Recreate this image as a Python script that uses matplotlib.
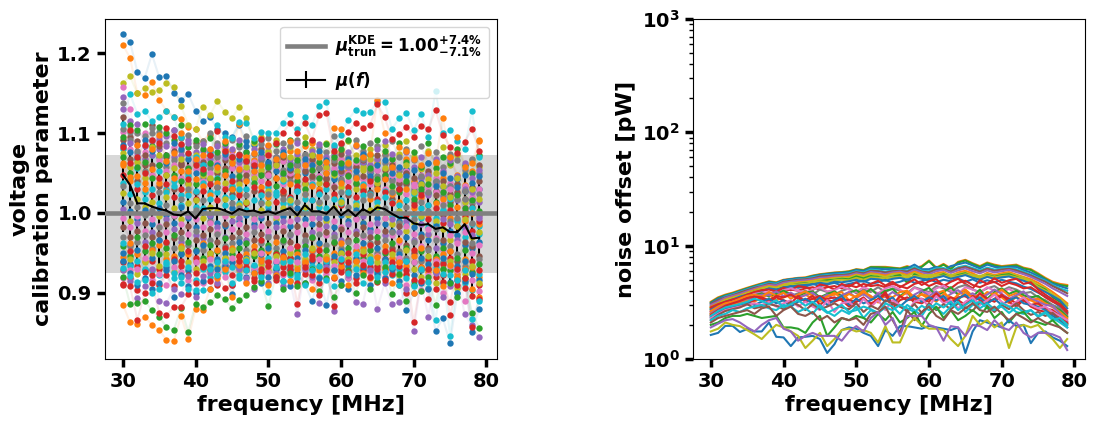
import numpy as np
import matplotlib
matplotlib.use('Agg')
import matplotlib.pyplot as plt

plt.rcParams['font.family'] = 'DejaVu Sans'
plt.rcParams['font.weight'] = 'bold'
plt.rcParams['mathtext.fontset'] = 'dejavusans'

freq = list(range(30, 80))
mu_kde = 1.00
band_low = 0.925
band_high = 1.072

# voltage calibration: deviation from 1 in thousandths, per antenna
S0 = [224,214,177,169,199,170,172,150,142,149,128,115,120,105,100,95,110,90,85,92,60,70,65,55,62,50,72,45,60,52,40,58,45,62,50,35,48,42,30,55,38,45,25,40,32,20,42,28,18,30]
S1 = [211,194,150,148,164,142,128,120,118,108,105,90,98,85,80,78,112,72,66,60,75,60,68,78,58,84,64,72,55,66,78,52,60,70,45,62,74,55,48,68,40,58,50,62,44,70,48,35,52,90]
S2 = [163,171,150,156,152,154,163,158,134,110,105,133,123,140,127,119,133,119,88,95,78,92,65,82,70,95,80,60,88,75,68,90,72,58,80,66,85,62,74,90,70,55,78,64,82,60,72,50,66,58]
S3 = [112,149,124,128,115,120,128,120,95,74,70,60,75,110,95,94,114,113,94,102,100,100,113,124,105,120,110,134,139,85,98,117,129,125,127,139,139,105,119,125,104,124,95,153,100,104,90,80,128,70]
S4 = [82,104,70,85,92,88,107,97,87,75,60,55,72,103,78,70,73,65,60,93,72,88,100,113,100,113,92,123,125,78,88,102,113,107,110,136,120,93,99,108,95,109,105,129,98,83,75,89,105,77]
S5 = [60,45,85,38,80,98,65,75,100,52,68,72,80,58,90,62,55,70,75,60,85,68,72,90,78,60,88,70,64,107,105,62,85,70,74,142,100,58,82,78,68,60,75,64,119,70,95,58,62,92]
S6 = [-115,-137,-139,-130,-140,-147,-159,-161,-129,-158,-120,-122,-95,-82,-70,-105,-65,-88,-75,-60,-90,-78,-55,-85,-70,-62,-95,-72,-58,-80,-66,-90,-60,-75,-82,-55,-70,-88,-62,-78,-100,-68,-85,-72,-92,-65,-80,-70,-95,-105]
S7 = [-80,-114,-113,-110,-122,-130,-143,-147,-119,-149,-114,-118,-112,-103,-108,-119,-109,-103,-93,-85,-117,-80,-95,-75,-92,-88,-70,-98,-82,-105,-90,-72,-100,-78,-95,-85,-68,-102,-76,-110,-90,-98,-80,-115,-70,-88,-105,-82,-125,-144]
S8 = [-72,-85,-107,-92,-70,-110,-113,-95,-102,-79,-105,-79,-75,-88,-62,-90,-70,-82,-95,-60,-88,-75,-92,-85,-127,-70,-80,-113,-68,-123,-90,-78,-112,-114,-72,-120,-88,-114,-112,-95,-148,-85,-130,-75,-105,-92,-80,-127,-141,-156]
S9 = [-89,-92,-134,-100,-88,-125,-128,-118,-118,-102,-75,-68,-85,-78,-94,-90,-60,-72,-85,-70,-62,-80,-75,-66,-114,-68,-78,-103,-72,-116,-60,-74,-88,-65,-80,-70,-84,-62,-90,-76,-137,-85,-70,-95,-78,-128,-90,-82,-143,-108]
S10 = [-60,-75,-90,-82,-95,-88,-72,-105,-78,-92,-100,-85,-95,-70,-65,-102,-68,-80,-75,-88,-80,-70,-85,-92,-75,-88,-110,-82,-115,-72,-85,-95,-78,-68,-90,-76,-82,-70,-85,-122,-100,-88,-95,-148,-132,-163,-100,-85,-149,-120]
S11 = [-69,-79,-87,-84,-100,-95,-62,-75,-80,-95,-96,-96,-70,-78,-60,-88,-82,-72,-65,-80,-99,-68,-85,-60,-78,-90,-72,-66,-84,-92,-58,-75,-70,-88,-62,-80,-74,-68,-90,-82,-92,-70,-86,-134,-76,-154,-84,-72,-133,-110]
S12 = [158,130,85,100,92,95,72,82,60,74,55,68,80,62,50,72,58,66,48,60,72,54,65,46,58,70,52,62,44,56,68,50,60,42,66,54,48,62,40,52,36,48,30,44,28,38,24,34,20,30]
S13 = [145,115,75,68,90,80,96,70,85,92,65,78,60,72,84,58,64,76,52,68,56,70,48,62,74,54,66,46,60,72,50,58,44,64,52,68,42,56,36,50,28,44,22,38,20,34,16,30,26,14]
S14 = [120,95,90,60,110,84,70,78,60,56,88,64,72,50,66,58,74,54,62,80,50,64,70,46,60,52,68,56,44,62,74,48,58,66,42,72,54,60,38,50,44,34,52,28,40,24,36,18,32,60]
S15 = [138,102,78,52,100,70,58,66,78,50,62,44,56,70,48,64,52,42,58,66,46,70,54,40,60,74,44,56,50,66,42,60,48,68,54,46,62,40,52,36,30,46,26,40,22,34,18,28,12,24]
S16 = [70,50,58,64,44,60,72,48,40,56,36,50,62,42,52,30,46,66,38,48,58,34,50,60,40,30,54,44,36,50,62,46,38,30,56,42,48,34,26,40,18,30,36,14,26,10,22,6,16,2]
S17 = [62,40,46,30,55,38,28,44,52,26,42,34,22,38,48,30,26,40,52,32,20,44,28,36,46,24,34,30,50,20,38,28,44,34,18,30,42,24,14,30,6,20,-2,12,18,-6,8,-10,0,-14]
S18 = [48,62,30,50,22,44,36,20,30,42,18,28,36,16,30,40,22,12,32,26,38,14,28,20,34,42,16,26,36,24,10,32,20,28,40,18,26,12,30,-2,10,22,-8,6,-12,4,-16,-4,-22,-10]
S19 = [38,24,36,18,30,12,26,34,10,22,28,6,18,26,10,20,30,4,16,22,8,26,12,18,28,2,16,24,6,18,12,26,8,22,2,14,20,-4,10,-14,-2,6,-18,-6,2,-24,-10,-30,-14,-26]
S20 = [25,-10,18,8,14,-4,20,6,-8,12,16,-6,8,2,18,-2,10,14,-6,4,12,-8,6,16,-4,8,0,12,-10,6,14,-2,10,-12,4,8,-6,-14,2,-22,-12,-4,-28,-10,-20,-34,-16,-8,-30,-24]
S21 = [14,2,-8,4,-14,6,-2,-12,8,-6,-18,2,-4,-12,-16,6,-10,-2,-14,-6,2,-12,-4,-16,6,-8,-14,0,-6,-18,-2,-10,4,-12,-20,-6,-14,-22,-10,-30,-18,-26,-34,-16,-38,-22,-28,-40,-44,-36]
S22 = [-6,-18,-4,-22,-8,-16,-24,-2,-14,-26,-8,-18,-12,-24,-4,-20,-14,-26,-8,-16,-22,-4,-18,-10,-24,-14,-6,-20,-28,-10,-18,-24,-8,-30,-14,-22,-6,-28,-36,-16,-26,-42,-20,-32,-46,-28,-38,-24,-50,-40]
S23 = [-18,-30,-22,-12,-30,-26,-14,-32,-24,-16,-34,-28,-20,-36,-14,-30,-24,-18,-34,-26,-12,-30,-22,-36,-16,-28,-32,-14,-24,-38,-20,-34,-26,-18,-30,-36,-22,-44,-16,-40,-50,-30,-44,-56,-34,-48,-60,-36,-42,-54]
S24 = [-30,-42,-36,-28,-44,-18,-38,-44,-32,-40,-22,-46,-34,-26,-42,-38,-32,-46,-24,-38,-30,-44,-36,-26,-42,-34,-48,-26,-40,-30,-44,-36,-46,-28,-38,-50,-34,-24,-48,-56,-36,-60,-46,-34,-62,-42,-52,-66,-38,-58]
S25 = [-42,-54,-30,-48,-38,-52,-44,-28,-50,-36,-46,-56,-40,-48,-32,-52,-44,-38,-54,-46,-40,-50,-34,-56,-48,-42,-30,-54,-46,-36,-52,-44,-34,-56,-46,-30,-50,-38,-58,-44,-62,-48,-70,-54,-44,-72,-56,-46,-74,-64]
S26 = [-55,-38,-52,-60,-46,-40,-58,-54,-42,-52,-60,-38,-54,-46,-56,-44,-60,-52,-42,-56,-48,-36,-58,-44,-52,-60,-46,-40,-56,-50,-38,-58,-48,-44,-60,-54,-42,-56,-34,-66,-54,-44,-74,-58,-52,-48,-76,-58,-68,-80]
S27 = [-62,-48,-66,-42,-60,-70,-36,-58,-66,-48,-56,-68,-50,-60,-44,-66,-54,-62,-48,-34,-60,-52,-68,-56,-42,-64,-54,-46,-62,-58,-70,-50,-60,-52,-40,-66,-58,-48,-62,-72,-46,-68,-58,-80,-64,-56,-84,-70,-60,-90]
S28 = [-50,-64,-46,-72,-56,-34,-68,-60,-52,-72,-48,-40,-66,-58,-50,-62,-36,-56,-66,-52,-44,-62,-48,-70,-56,-46,-60,-38,-64,-54,-48,-66,-56,-38,-62,-44,-58,-66,-52,-60,-78,-56,-64,-74,-56,-86,-66,-60,-76,-84]
S29 = [-72,-58,-76,-62,-50,-66,-52,-74,-44,-62,-70,-60,-50,-68,-56,-46,-72,-58,-50,-64,-72,-54,-62,-50,-66,-58,-44,-68,-54,-62,-50,-58,-66,-48,-54,-62,-70,-52,-78,-46,-70,-80,-54,-88,-70,-60,-94,-76,-66,-88]
S30 = [102,80,62,76,48,66,52,60,44,58,68,40,50,62,34,56,42,52,64,40,48,58,36,50,42,60,38,46,56,34,52,40,64,44,36,54,30,48,42,24,34,18,46,26,12,30,22,8,16,-4]
S31 = [92,68,40,72,60,34,48,30,62,38,26,52,42,32,56,24,40,48,28,50,36,44,24,54,30,38,46,26,42,32,52,22,36,46,26,34,44,18,30,38,14,26,10,22,-2,14,26,2,8,40]
S32 = [80,44,56,26,72,52,30,40,22,46,8,38,26,44,20,34,12,30,42,14,32,22,40,12,28,18,36,8,30,44,16,28,14,36,24,6,28,14,-4,16,24,-6,10,-14,4,18,-8,-20,6,-16]
A0 = [105,92,100,96,106,102,88,104,94,98,84,90,100,88,76,92,82,96,74,86,94,78,88,84,92,72,90,82,76,96,86,70,92,78,88,84,72,90,70,80,66,84,62,76,58,74,66,54,68,50]
A1 = [95,110,104,112,84,108,100,92,110,82,92,80,94,76,88,70,86,76,90,72,62,86,72,92,66,88,74,64,86,70,80,92,66,84,72,92,78,68,88,64,76,58,88,56,70,62,80,60,50,72]
A2 = [130,88,112,84,72,92,84,104,72,88,76,86,68,84,70,80,92,64,80,70,84,60,80,68,88,64,78,86,70,82,60,76,84,74,60,80,90,74,56,76,58,70,48,68,52,66,46,62,44,54]
A3 = [85,76,68,92,78,60,62,88,80,68,50,60,78,60,74,46,68,84,58,76,64,52,76,56,48,68,60,78,66,42,58,68,52,74,46,60,66,50,58,46,54,38,62,34,50,44,32,48,38,46]
A4 = [75,58,64,44,82,72,48,56,68,36,72,48,44,54,38,66,36,58,44,54,28,60,42,70,52,36,72,38,58,48,32,64,30,54,68,38,56,28,48,60,26,36,42,50,34,20,44,14,30,18]
A5 = [-38,-66,-60,-70,-72,-78,-64,-82,-88,-68,-84,-70,-80,-62,-74,-68,-78,-60,-72,-78,-56,-70,-62,-78,-82,-52,-66,-80,-60,-72,-64,-82,-52,-70,-58,-74,-62,-78,-70,-60,-86,-72,-94,-68,-88,-78,-100,-88,-96,-76]
A6 = [-82,-72,-70,-56,-84,-76,-90,-68,-74,-84,-62,-88,-58,-74,-80,-56,-64,-86,-70,-50,-74,-60,-78,-44,-62,-72,-84,-58,-76,-66,-56,-82,-42,-60,-74,-54,-80,-70,-56,-90,-62,-96,-78,-60,-100,-66,-72,-110,-84,-98]
A7 = [-90,-82,-96,-74,-78,-90,-78,-92,-60,-78,-88,-66,-72,-90,-68,-78,-54,-68,-82,-74,-66,-84,-54,-72,-88,-76,-58,-88,-70,-82,-74,-62,-82,-72,-68,-86,-48,-76,-66,-100,-84,-70,-108,-64,-86,-112,-70,-94,-104,-72]
A8 = [5,-40,-12,-36,-24,-34,-8,-20,-36,-4,-28,-32,-2,-18,-30,-10,-6,-34,-18,-2,-28,-18,-10,-28,-8,-36,-24,-6,-16,-26,-34,-14,-22,-4,-24,-12,-28,-8,-24,-10,-34,-14,-26,-44,-8,-14,-34,-18,-28,-6]
A9 = [34,12,8,-2,4,26,10,-4,18,30,4,16,-10,32,0,12,6,22,-2,12,24,0,18,6,14,24,-2,14,20,2,26,8,-6,16,22,0,6,26,-12,8,-8,14,2,-20,10,-10,-6,18,-12,-2]

volt_series = [S0, S1, S2, S12, S13, S14, S15, S30, S31, S32, A0, A1, A2, A3, A4, S16, S17, S18, S19, S20, S21, A9, A8, S22, S23,
               S24, S25, S26, S27, S28, S29, A5, A6, A7, S10, S8, S6, S7, S9, S11, S3, S5, S4]
volt_colors = ['C0', 'C1', 'C8', 'C6', 'C4', 'C5', 'C7', 'C6', 'C5', 'C9', 'C7', 'C2', 'C4', 'C0', 'C8', 'C2', 'C1', 'C3', 'C9', 'C8', 'C0', 'C7', 'C4',
               'C6', 'C5', 'C7', 'C2', 'C1', 'C3', 'C0', 'C8', 'C9', 'C6', 'C3', 'C0', 'C4', 'C1', 'C2', 'C3', 'C9', 'C9', 'C1', 'C3']

mu_f = [48,35,12,12,8,5,3,-2,-3,2,-7,5,6,6,3,-1,5,2,3,0,2,-1,3,6,-3,10,2,2,-1,8,-3,4,-4,5,0,7,5,-1,-6,-6,-13,-15,-14,-20,-18,-24,-24,-14,-32,-31]
mu_err = [72,74,72,70,71,72,73,72,71,72,72,70,68,68,67,68,66,64,65,66,66,64,66,67,66,67,66,66,65,66,66,66,67,66,66,68,68,66,66,67,68,67,68,70,68,70,70,68,72,74]

# noise offset in pW, per antenna
R0 = [1.63,1.7,1.96,1.96,1.73,1.84,1.75,1.75,2.1,1.57,1.55,1.3,1.55,1.57,1.6,1.5,1.13,1.35,1.8,1.9,1.85,1.7,1.6,1.3,1.8,1.6,1.95,1.95,1.9,1.85,1.96,1.9,1.85,1.8,1.9,1.13,1.75,2.2,2.1,2.0,1.9,2.2,1.95,2.0,1.38,1.7,1.75,1.55,1.45,1.3]
R1 = [1.75,1.85,2.1,2.0,1.95,1.8,1.65,1.5,1.75,2.0,1.9,1.75,1.6,1.25,1.45,1.7,1.3,1.5,1.8,1.85,1.75,1.8,1.7,1.4,1.95,1.4,1.4,1.95,2.3,2.0,1.85,1.85,1.8,1.5,1.3,1.6,2.4,2.0,2.2,1.9,2.1,1.25,1.9,2.0,1.9,2.0,1.7,1.5,1.25,1.5]
R2 = [1.9,2.05,2.2,2.25,2.1,1.9,1.75,2.0,2.2,2.3,1.85,1.75,1.45,1.6,1.7,1.6,1.6,1.6,1.45,1.75,1.95,1.75,2.3,2.6,2.0,2.3,1.6,2.4,2.4,2.4,2.0,1.9,1.45,1.95,1.9,1.6,2.0,1.95,1.8,2.2,1.9,1.8,2.1,1.7,1.55,1.7,1.7,1.65,1.55,1.2]
R3 = [2.0,2.1,2.3,2.4,2.4,2.5,2.4,2.3,2.35,2.4,1.9,1.9,1.85,1.7,2.1,2.4,1.6,1.9,2.3,2.2,2.4,2.3,2.1,2.5,2.2,2.6,2.1,2.3,2.6,1.95,2.5,2.9,2.3,2.7,2.2,2.4,2.7,2.4,2.9,2.3,2.6,2.1,2.5,2.6,2.2,2.1,2.0,2.2,1.9,1.7]
R4 = [2.1,2.3,2.4,2.5,2.6,2.7,2.5,2.8,2.9,2.4,2.7,2.9,2.5,2.4,2.6,2.2,2.4,2.1,2.3,2.2,2.3,2.0,2.5,2.6,2.9,2.2,1.7,2.7,2.2,2.6,2.9,2.4,2.2,2.7,2.5,2.8,3.1,2.7,2.6,2.9,2.5,2.2,2.5,2.3,2.1,2.3,2.1,2.0,1.9,1.7]
R5 = [2.2,2.4,2.5,2.7,2.6,2.8,2.9,3.0,2.8,2.7,3.0,2.9,2.6,2.8,2.5,3.0,2.6,2.4,2.7,2.5,2.9,2.3,2.7,2.5,3.1,2.9,2.5,3.0,2.7,2.4,3.0,2.8,2.5,2.9,3.2,2.6,3.0,3.2,2.8,2.7,3.1,2.9,2.6,2.5,2.7,2.4,2.6,2.3,2.1,1.9]
R6 = [2.3,2.5,2.7,2.8,2.9,3.0,3.1,3.0,3.2,2.9,3.1,3.3,2.9,3.2,2.9,2.7,3.3,2.6,3.1,3.2,2.8,3.4,2.9,3.3,2.7,3.3,3.0,2.6,3.2,3.4,2.9,3.6,3.1,3.3,2.8,3.2,3.5,3.0,3.3,3.7,3.2,2.9,3.2,3.5,3.0,2.8,2.9,2.6,2.4,2.2]
R7 = [2.4,2.6,2.8,2.9,3.0,3.1,3.3,3.4,3.2,3.5,3.3,3.1,3.6,3.2,3.4,3.6,3.3,3.2,3.4,3.3,3.2,3.4,3.1,3.3,3.9,3.0,3.6,3.3,3.4,3.4,3.2,3.8,3.3,3.1,3.5,3.6,3.2,3.8,3.4,3.2,3.6,3.4,3.1,3.3,3.0,3.1,2.8,2.7,2.4,2.0]
R8 = [2.5,2.7,2.9,3.0,3.2,3.3,3.2,3.5,3.7,3.3,3.5,3.7,3.4,3.7,3.4,3.2,3.6,3.7,3.9,3.3,3.6,4.0,3.5,3.2,3.7,3.5,3.9,4.0,3.5,3.7,3.4,3.8,4.0,3.2,3.7,4.1,3.6,3.4,3.9,3.7,4.1,3.6,3.8,3.5,3.3,3.4,3.1,2.9,2.6,2.3]
R9 = [2.35,2.6,2.85,3.0,3.1,3.35,3.5,3.6,3.8,3.7,3.9,3.6,3.8,4.0,3.7,4.1,3.9,3.7,4.0,4.2,3.8,4.1,3.9,4.3,3.9,4.2,4.0,3.8,4.3,4.1,3.9,4.4,4.2,3.9,4.3,4.5,4.1,3.9,4.2,4.4,4.0,4.3,4.1,3.8,3.9,3.5,3.3,3.0,2.8,2.4]
R10 = [2.6,2.8,3.0,3.1,3.3,3.4,3.6,3.7,3.8,3.9,4.0,4.1,4.0,4.2,4.3,4.1,4.3,4.4,4.2,4.5,4.3,4.6,4.4,4.5,4.3,4.6,4.4,4.2,4.6,4.8,4.4,4.7,4.5,4.2,4.7,4.9,4.5,4.3,4.6,4.8,4.4,4.7,4.5,4.2,4.3,3.9,3.5,3.2,3.0,2.5]
R11 = [2.55,2.85,3.05,3.2,3.35,3.5,3.75,3.85,3.9,3.7,4.05,4.2,4.0,3.85,4.1,4.3,3.95,4.05,4.35,4.1,3.9,4.3,4.05,3.8,4.2,4.4,4.1,3.7,4.25,4.0,3.8,4.2,4.45,4.0,3.75,4.3,4.1,3.85,4.3,4.0,3.9,4.15,3.8,3.6,3.55,3.3,3.1,2.85,2.6,2.25]
R12 = [2.7,2.95,3.15,3.3,3.5,3.65,3.85,4.0,4.15,4.05,4.3,4.35,4.45,4.5,4.55,4.7,4.6,4.8,4.75,4.85,5.0,4.8,5.1,5.05,4.9,5.1,5.2,5.0,5.3,5.1,5.0,5.2,5.4,5.1,5.3,5.5,5.2,5.0,5.3,5.1,5.25,5.35,5.1,4.9,4.6,4.2,3.9,3.6,3.3,2.8]
R13 = [2.8,3.0,3.25,3.4,3.55,3.75,3.95,4.1,4.25,4.2,4.4,4.45,4.6,4.65,4.7,4.85,4.95,5.0,5.1,5.05,5.35,5.15,5.4,5.3,5.1,5.35,5.5,4.7,5.6,5.2,4.9,5.3,5.6,5.2,5.5,5.7,5.3,5.0,5.5,5.3,5.5,5.6,5.3,5.0,4.7,4.4,4.1,3.5,3.2,2.6]
R14 = [2.9,3.1,3.35,3.5,3.65,3.85,4.05,4.25,4.4,4.3,4.55,4.6,4.75,4.8,4.9,5.05,5.1,5.2,5.25,5.3,5.55,5.4,5.7,5.6,5.45,5.65,5.75,5.5,5.9,5.6,5.3,5.7,5.85,5.4,5.8,6.0,5.7,5.3,5.75,5.5,5.7,5.85,5.55,5.3,5.05,4.7,4.3,3.9,3.5,3.1]
R15 = [2.75,3.05,3.3,3.45,3.6,3.8,4.0,4.2,4.35,4.2,4.5,4.7,4.7,4.75,4.85,5.0,5.0,5.15,5.2,5.2,5.5,5.3,5.6,5.5,5.3,5.6,5.6,5.4,5.75,5.45,5.5,5.55,5.7,5.5,5.65,5.8,5.5,5.4,5.6,5.4,5.55,5.7,5.45,5.2,4.9,4.5,4.2,3.7,3.4,3.0]
R16 = [3.0,3.2,3.45,3.6,3.75,3.95,4.15,4.35,4.5,4.45,4.7,4.8,4.9,4.95,5.05,5.2,5.25,5.35,5.4,5.45,5.7,5.55,5.85,5.75,5.6,5.8,5.9,5.7,6.1,5.8,5.6,5.95,6.1,5.75,6.05,6.3,5.95,5.7,6.05,5.8,5.95,6.1,5.85,5.6,5.3,4.95,4.6,4.2,3.9,3.6]
R17 = [3.05,3.3,3.5,3.65,3.85,4.05,4.25,4.4,4.6,4.5,4.8,4.9,5.0,5.05,5.15,5.35,5.4,5.5,5.5,5.6,5.85,5.7,6.0,5.95,5.8,5.95,6.0,5.9,6.3,5.9,5.8,6.15,6.2,5.9,6.3,6.5,6.2,5.9,6.25,6.0,6.15,6.25,6.05,5.75,5.45,5.1,4.8,4.4,4.1,3.8]
R18 = [2.95,3.25,3.55,3.7,3.9,4.1,4.3,4.5,4.65,4.6,4.85,4.95,5.05,5.1,5.25,5.4,5.5,5.55,5.6,5.7,5.95,5.8,6.15,6.05,5.9,6.05,6.1,6.0,6.5,6.0,5.95,6.3,6.35,6.0,6.45,6.65,6.35,6.05,6.4,6.15,6.3,6.35,6.2,5.9,5.55,5.2,4.9,4.5,4.2,4.0]
R19 = [3.1,3.4,3.6,3.75,3.95,4.15,4.35,4.55,4.75,4.65,4.95,5.05,5.15,5.15,5.35,5.5,5.6,5.7,5.75,5.8,6.1,5.95,6.3,6.25,6.2,6.2,6.15,6.3,6.8,6.2,6.2,6.5,6.1,6.6,6.85,7.1,6.7,6.3,6.8,6.5,6.4,6.5,6.5,6.1,5.8,5.4,5.0,4.6,4.4,4.2]
R20 = [3.2,3.5,3.7,3.85,4.05,4.25,4.45,4.65,4.85,4.75,5.0,5.1,5.2,5.25,5.45,5.6,5.7,5.8,5.85,5.95,6.2,6.1,6.5,6.5,6.5,6.4,6.3,6.6,6.3,6.6,7.4,6.4,6.9,6.3,7.2,7.5,7.0,6.6,7.1,6.8,6.6,6.7,6.8,6.4,6.2,5.7,5.2,4.8,4.6,4.5]
R21 = [3.15,3.45,3.65,3.8,4.0,4.2,4.4,4.6,4.8,4.7,4.95,5.05,5.15,5.2,5.4,5.55,5.65,5.75,5.8,5.9,6.15,6.05,6.45,6.45,6.4,6.35,6.25,6.5,6.2,6.5,7.3,6.3,6.8,6.2,7.1,7.4,6.9,6.5,7.0,6.7,6.5,6.6,6.7,6.3,6.1,5.6,5.1,4.7,4.5,4.4]
R22 = [2.45,2.7,2.95,3.1,3.25,3.45,3.55,3.5,3.3,3.6,3.5,3.7,3.4,3.3,3.6,3.0,3.4,3.5,3.3,2.9,3.2,3.5,3.0,3.4,3.7,2.8,3.3,3.5,3.2,3.1,3.4,3.7,3.2,3.5,3.3,3.0,3.6,3.3,3.1,3.4,3.7,3.2,2.9,3.3,2.9,2.7,2.6,2.5,2.3,2.1]
R23 = [2.3,2.55,2.75,2.9,3.0,3.15,3.0,3.2,3.4,3.1,3.3,2.9,3.2,3.4,3.1,3.5,3.0,3.3,3.6,3.0,3.4,3.1,3.3,3.6,3.2,3.5,2.9,3.3,3.6,3.2,3.5,3.3,3.6,3.0,3.4,3.7,3.2,3.5,3.1,3.4,3.0,3.3,3.5,3.1,3.0,2.9,2.7,2.4,2.2,1.9]
N0 = [2.65,2.9,3.1,3.2,3.4,3.6,3.7,3.55,3.9,3.6,3.85,3.4,3.7,3.95,3.6,3.3,3.55,3.85,3.4,3.75,3.5,3.9,3.6,3.15,3.7,3.0,3.5,3.9,3.4,3.75,3.55,3.2,3.75,3.5,3.3,3.9,3.45,3.75,3.25,3.8,3.5,3.1,3.55,3.25,3.3,3.05,2.8,2.5,2.4,2.05]
N1 = [2.85,3.05,3.2,3.35,3.45,3.7,3.9,4.05,4.1,3.95,4.25,4.05,4.4,4.3,4.05,4.55,4.4,4.1,4.6,4.35,4.75,4.3,4.6,4.9,4.45,4.8,4.3,4.65,5.05,4.5,4.85,5.05,4.4,4.8,5.1,4.6,4.2,4.95,4.6,5.15,4.7,4.95,5.1,4.6,4.75,4.1,3.7,3.35,3.05,2.65]
N2 = [2.5,2.75,2.9,3.1,3.3,3.45,3.65,3.8,3.55,3.75,4.0,3.75,3.55,3.85,3.95,3.5,3.75,3.95,3.6,3.85,4.05,3.7,4.15,3.65,4.0,4.15,3.6,3.95,3.1,3.95,4.25,3.6,3.9,4.3,3.7,4.05,3.55,4.1,3.4,3.9,4.2,3.75,4.0,3.65,3.5,3.6,3.2,2.9,2.7,2.35]
N3 = [2.2,2.45,2.65,2.75,2.85,3.05,2.8,2.9,3.05,2.95,2.75,3.2,3.0,2.7,3.05,2.75,2.9,3.1,2.85,2.75,3.1,2.6,2.95,2.75,3.3,3.1,2.9,2.65,3.05,2.55,3.1,2.7,3.05,2.75,3.1,2.85,2.65,3.2,2.95,2.6,3.0,2.75,3.1,2.7,2.45,2.6,2.4,2.55,2.25,2.05]
N4 = [2.4,2.65,2.85,2.95,3.05,3.2,3.4,3.25,3.05,3.3,2.85,3.05,3.3,2.95,3.2,2.85,2.55,2.75,3.0,2.6,2.7,2.9,2.75,2.55,2.85,2.7,3.0,2.8,2.6,2.95,2.7,3.1,2.85,3.2,2.7,3.0,3.3,2.8,3.1,2.75,2.9,2.55,2.85,2.6,2.7,2.35,2.55,2.2,2.3,2.0]
N5 = [2.6,2.8,3.05,3.15,3.25,3.4,3.55,3.7,3.65,3.95,3.6,3.85,3.5,3.65,3.85,3.4,3.7,3.35,3.65,3.9,3.45,3.75,3.35,3.8,3.5,3.9,3.55,3.3,3.7,4.0,3.6,3.95,3.4,3.75,4.05,3.55,3.8,3.45,3.7,4.1,3.75,3.4,3.65,3.95,3.4,3.2,3.0,2.95,2.5,2.15]
N6 = [2.75,3.0,3.2,3.35,3.55,3.7,3.8,3.95,4.2,4.1,4.2,4.4,4.25,4.35,4.6,4.4,4.55,4.7,4.45,4.6,4.75,4.9,4.6,4.75,5.0,4.65,4.8,5.05,4.7,4.85,5.1,4.75,5.0,4.85,5.15,4.8,5.05,4.7,4.95,4.75,5.0,4.8,4.65,4.35,4.15,3.85,3.55,3.25,2.9,2.55]
N7 = [2.85,3.1,3.3,3.45,3.6,3.8,3.95,4.15,4.3,4.25,4.45,4.5,4.55,4.6,4.75,4.85,4.8,4.95,5.0,4.95,5.2,5.0,5.25,5.2,5.15,5.25,5.3,5.25,5.4,5.3,5.25,5.4,5.45,5.3,5.4,5.6,5.4,5.2,5.45,5.25,5.4,5.45,5.25,5.05,4.8,4.35,4.0,3.7,3.35,2.95]

noise_series = [R20, R21, R19, R18, R17, R16, R14, R15, R13, N7, R12, N6, N1, R10, R9, R11, N2, R8, N5, N0, R7, R22, R23, R6, N3, N4, R5, R3, R4, R0, R1, R2]
noise_colors = ['C1', 'C2', 'C0', 'C9', 'C5', 'C4', 'C1', 'C8', 'C2', 'C8', 'C0', 'C0', 'C3', 'C3', 'C7', 'C6', 'C2', 'C1', 'C4', 'C1', 'C3', 'C3', 'C0', 'C6', 'C5', 'C9', 'C9', 'C2', 'C5', 'C0', 'C8', 'C4']

fig = plt.figure(figsize=(10.98, 4.25), dpi=100)
W, H = 1098, 425
ax1 = fig.add_axes([105/W, (H-359)/H, 392/W, 340/H])
ax2 = fig.add_axes([693/W, (H-359)/H, 392/W, 340/H])

ax1.axhspan(band_low, band_high, color='gray', alpha=0.3, lw=0, zorder=1)
for vals, c in zip(volt_series, volt_colors):
    y = 1 + np.array(vals) / 1000
    ax1.plot(freq, y, '-', color=c, alpha=0.1, lw=1.5, zorder=2)
    ax1.plot(freq, y, 'o', color=c, ms=4.6, mew=0, zorder=2.5)

ax1.axhline(mu_kde, color='gray', lw=3.3, zorder=4,
            label=r'$\boldsymbol{\mu}_{\mathbf{trun}}^{\mathbf{KDE}}\mathbf{=1.00}^{\mathbf{+7.4\%}}_{\mathbf{-7.1\%}}$')
eb = ax1.errorbar(freq, 1 + np.array(mu_f) / 1000, yerr=np.array(mu_err) / 1000, color='k', lw=1.5,
                  elinewidth=1.5, zorder=1.5, label=r'$\boldsymbol{\mu(f)}$')
eb[0].set_zorder(5)
ax1.set_xlim(27.55, 81.45)
ax1.set_ylim(0.817, 1.243)
ax1.set_yticks([0.9, 1.0, 1.1, 1.2])
ax1.set_xlabel('frequency [MHz]', fontsize=16, fontweight='bold', labelpad=3)
ax1.set_ylabel('voltage\ncalibration parameter', fontsize=16, fontweight='bold', labelpad=3)
leg = ax1.legend(loc='upper right', fontsize=12, borderaxespad=0.48, handlelength=2.3,
                 handletextpad=0.6, labelspacing=0.65)
leg.set_zorder(10)

for vals, c in zip(noise_series, noise_colors):
    ax2.plot(freq, vals, '-', color=c, lw=1.5)
ax2.set_yscale('log')
ax2.set_xlim(27.55, 81.45)
ax2.set_ylim(1, 1000)
ax2.set_yticks([1, 10, 100, 1000])
ax2.set_yticklabels([r'$\mathbf{10^{0}}$', r'$\mathbf{10^{1}}$', r'$\mathbf{10^{2}}$', r'$\mathbf{10^{3}}$'])
ax2.set_xlabel('frequency [MHz]', fontsize=16, fontweight='bold', labelpad=3)
ax2.set_ylabel('noise offset [pW]', fontsize=16, fontweight='bold', labelpad=4)

for ax in (ax1, ax2):
    ax.set_xticks([30, 40, 50, 60, 70, 80])
    ax.tick_params(axis='both', which='major', labelsize=14, width=2.5, length=6)
    ax.tick_params(axis='both', which='minor', width=1, length=3)

fig.savefig('out.png', dpi=100)
